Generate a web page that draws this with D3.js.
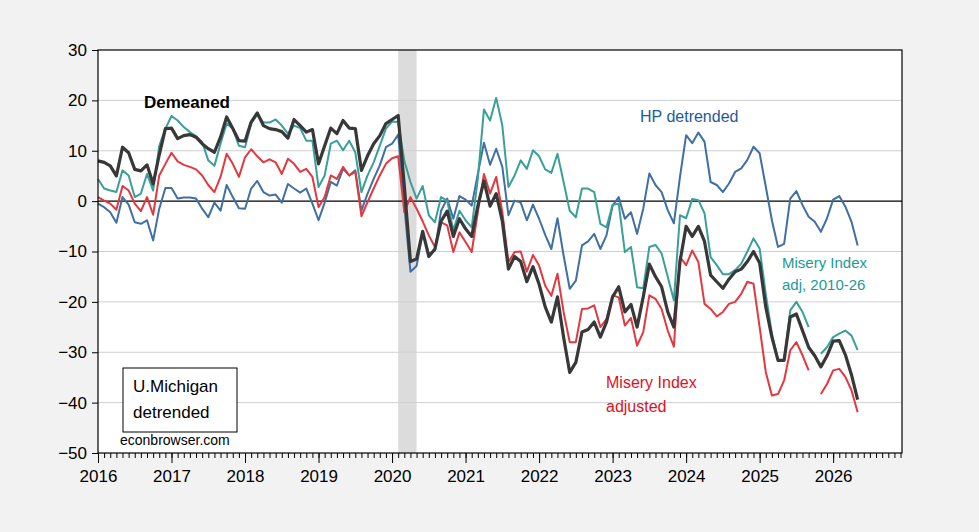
<!DOCTYPE html>
<html>
<head>
<meta charset="utf-8">
<script src="https://cdn.jsdelivr.net/npm/d3@7"></script>
<style>
  body { margin: 0; background: #f2f2f2; font-family: "Liberation Sans", Arial, sans-serif; }
</style>
</head>
<body>
<div id="chart"></div>
<script>
// monthly, 2016-01 .. 2026-05
const startYear = 2016;
const yTicks = [30, 20, 10, 0, -10, -20, -30, -40, -50];
const yearTicks = d3.range(2016, 2027);

const demeaned = [
  8,7.7,7,5,10.7,9.6,6.3,6,7.2,3.4,9.2,14.4,
  14.5,12.4,13,13.2,12.7,11.4,10.4,9.7,12.7,16.7,14.4,12,
  11.9,15.7,17.5,15,14.4,14.2,13.8,12.5,16.2,15,13.7,14.2,
  7.4,11,14.5,13.4,16,14.5,14.4,6.1,9,11.4,13,15.4,
  16.2,17,3,-12,-11.5,-6,-11,-9.5,-4,-2,-7,-3.5,
  -5.5,-7,-1,4,-1,1.5,-4,-13.5,-11,-12,-16,-13,
  -16.5,-21,-24,-19,-27,-34,-32,-26,-25.5,-24,-27,-24,
  -19,-17,-22,-20.5,-25,-19,-12.5,-15,-17,-22,-25,-12,
  -5,-7,-5,-8,-14.7,-16,-17.3,-15.5,-14,-13.5,-12,-10,
  -12.3,-21,-27,-31.6,-31.6,-23,-22.4,-25.7,-29,-30.7,-32.9,-30.7,
  -27.8,-27.7,-30.5,-34.5,-39.4
];
const miseryAdj1026 = [
  4.4,2.5,2.1,1.8,6.1,5.1,0.8,1.5,5.4,2.1,11,14.4,
  16.9,16,14.7,13.7,12.9,11.7,8.1,7,11.4,15.4,14.4,11,
  10.7,15.4,17.2,15.6,15.6,16.2,15,13.4,15,14.5,12,12,
  2.8,5.1,11.4,12,10.1,12,9.7,1.8,5.1,7.7,11,14.4,
  15.8,15.7,8,3.8,0.5,3,-2.8,-4.2,0.8,0.1,-5.8,-1.9,
  -3.8,-5.2,4.4,18.2,16,20.5,15,2.8,5.1,8.1,6.4,10.1,
  8.9,6.3,5.6,9.4,3.8,-1.9,-3.2,2.5,2.5,1.8,-4.5,-5.2,
  -0.7,-0.5,-10.1,-9.1,-17.1,-17.3,-9.1,-8.7,-10.4,-15,-19.7,-2.8,
  -3.4,0.4,0.2,-2.4,-11.1,-12.7,-14.5,-14.5,-13.7,-12.4,-10,-7.4,
  -9.4,-18.4,-26.3,-31.6,-31.6,-21.7,-20,-22,-25,null,-30.3,-29,
  -27,-26.3,-25.7,-26.7,-29.6
];
const miseryAdj = [
  0.8,0.1,-0.5,-1.7,3,2.1,-0.5,-2,0.8,-2.7,5.1,7.4,
  9.6,7.9,7.2,6.8,6.3,5.1,3.2,1.8,4.8,9.4,7.4,4.8,
  8.7,10.3,8.9,7.7,8.3,7.7,5.4,8.4,7.4,5.8,6.4,4.8,
  -1.2,0.8,5.1,4.4,6.8,5.1,5.8,-3,-0.2,2.5,5.1,7.4,
  8.5,8.9,-2.2,0.8,-1.5,-4,-6.8,-9.1,-4.2,-4.8,-10.1,-6.2,
  -8.1,-10.1,-2.2,5.4,1.5,4.8,-2.2,-12.1,-10.1,-10,-14,-10.7,
  -12.8,-16.8,-18.8,-14.4,-22,-28,-28,-21.4,-21.3,-20.7,-25,-23.4,
  -18.7,-19.1,-24.7,-23.2,-28.7,-26,-18.7,-19.4,-21.4,-25.7,-28.9,-11.1,
  -12.7,-9.8,-12.1,-20.4,-21.4,-22.9,-22,-20.4,-20,-18.4,-16,-16.4,
  -25,-33.9,-38.6,-38.3,-35.6,-29.6,-28,-30.6,-33.6,null,-38.3,-36.3,
  -33.6,-33.3,-34.9,-37.6,-41.9
];
const hpDetrended = [
  -0.5,-1.2,-2.2,-4.3,0.8,-0.7,-4.2,-4.5,-3.8,-7.8,-1.5,2.6,
  2.6,0.5,0.7,0.7,0.5,-1.5,-3.2,-0.3,-1.9,3.2,0.8,-1.4,
  -1.5,2.5,4,1.8,1.1,1.3,-0.3,3.4,2.5,1.7,2.5,-0.5,
  -3.8,-0.3,3.8,3.1,6.4,5.1,6.1,-1.9,1.5,4.4,7.1,10.7,
  11.4,13.2,-1,-14,-12.9,-6.3,-10.5,-9.8,-1.9,0.5,-3.5,1,
  0.3,-0.9,5.4,11.6,7.2,10.4,6.8,-2.8,0.1,-0.3,-3.8,-0.7,
  -3.5,-6.7,-9.5,-3.4,-10.8,-17.4,-15.8,-8.8,-8,-6.5,-9.5,-6.8,
  -0.9,0.8,-3.5,-2.2,-6.5,-1.5,5.5,3.2,1.8,-1.8,-4.4,4.8,
  13.1,11.5,13.6,11.8,3.8,3.2,1.8,3.5,5.8,6.5,8.2,10.8,
  9.5,2.9,-3.8,-9.1,-8.5,0.5,2,-0.8,-3.1,-4.1,-6.1,-3.4,
  0.3,1,-1.1,-4.1,-8.8
];
const recession = [2020 + 1/12, 2020 + 4/12];

const W = 979, H = 532;
const margin = { top: 50, right: 77, bottom: 79, left: 98 };
const innerW = W - margin.left - margin.right;
const innerH = H - margin.top - margin.bottom;

const svg = d3.select("#chart").append("svg").attr("width", W).attr("height", H);
const g = svg.append("g").attr("transform", `translate(${margin.left},${margin.top})`);

const x = d3.scaleLinear().domain([2016, 2026 + 11/12 + 0.02]).range([0, innerW]);
const y = d3.scaleLinear().domain([-50, 30]).range([innerH, 0]);
const t = i => startYear + i / 12;

g.append("rect").attr("width", innerW).attr("height", innerH).attr("fill", "#fff");

g.append("rect")
  .attr("x", x(recession[0])).attr("width", x(recession[1]) - x(recession[0]))
  .attr("y", 0).attr("height", innerH).attr("fill", "#dcdcdc");

// grid
g.append("g").selectAll("line").data(yTicks.filter(d => d !== 0 && d !== -50 && d !== 30))
  .join("line").attr("x1", 0).attr("x2", innerW)
  .attr("y1", d => y(d)).attr("y2", d => y(d))
  .attr("stroke", "#cfcfcf").attr("stroke-width", 1);
g.append("line").attr("x1", 0).attr("x2", innerW).attr("y1", y(0)).attr("y2", y(0))
  .attr("stroke", "#000").attr("stroke-width", 1.2);

const line = d3.line().defined(d => d != null).x((d, i) => x(t(i))).y(d => y(d));
const series = [
  { data: hpDetrended, color: "#3f6fa3", w: 2 },
  { data: miseryAdj1026, color: "#3a9f99", w: 2 },
  { data: miseryAdj, color: "#e2383f", w: 2 },
  { data: demeaned, color: "#383838", w: 3.2 }
];
series.forEach(s => {
  g.append("path").datum(s.data).attr("d", line)
    .attr("fill", "none").attr("stroke", s.color).attr("stroke-width", s.w)
    .attr("stroke-linejoin", "round");
});

// frame
g.append("rect").attr("width", innerW).attr("height", innerH)
  .attr("fill", "none").attr("stroke", "#000").attr("stroke-width", 1.2);

// y axis
const ya = g.append("g").call(d3.axisLeft(y).tickValues(yTicks).tickSize(6).tickFormat(d3.format("d")));
ya.select(".domain").remove();
ya.selectAll("text").attr("font-size", 17).attr("font-family", "Liberation Sans, Arial").attr("fill", "#000").attr("dx", -2);

// x axis: months minor, years major
const months = d3.range(0, 132).map(i => t(i)).filter(v => x(v) <= innerW);
g.append("g").attr("transform", `translate(0,${innerH})`)
  .call(d3.axisBottom(x).tickValues(months).tickSize(5).tickFormat(""))
  .select(".domain").remove();
const xa = g.append("g").attr("transform", `translate(0,${innerH})`)
  .call(d3.axisBottom(x).tickValues(yearTicks).tickSize(10).tickFormat(d3.format("d")));
xa.select(".domain").remove();
xa.selectAll("text").attr("font-size", 17).attr("font-family", "Liberation Sans, Arial").attr("fill", "#000").attr("dy", "0.95em");

// annotations
const lab = (tx, ty, s, col, opts = {}) => g.append("text")
  .attr("x", tx - margin.left).attr("y", ty - margin.top).text(s)
  .attr("fill", col).attr("font-size", opts.size || 16)
  .attr("font-weight", opts.bold ? "bold" : "normal");

lab(144, 108, "Demeaned", "#000", { bold: true, size: 17 });
lab(640, 122, "HP detrended", "#1f5a99", { size: 16 });
lab(782, 268, "Misery Index", "#1a9a9a", { size: 15 });
lab(782, 290, "adj, 2010-26", "#1a9a9a", { size: 15 });
lab(606, 388, "Misery Index", "#e0101e", { size: 16 });
lab(606, 412, "adjusted", "#e0101e", { size: 16 });

g.append("rect").attr("x", 123 - margin.left).attr("y", 368 - margin.top)
  .attr("width", 114).attr("height", 64).attr("fill", "#fff").attr("stroke", "#000");
lab(133, 392, "U.Michigan", "#000", { size: 17 });
lab(133, 418, "detrended", "#000", { size: 17 });
lab(120, 445, "econbrowser.com", "#000", { size: 14 });
</script>
</body>
</html>
